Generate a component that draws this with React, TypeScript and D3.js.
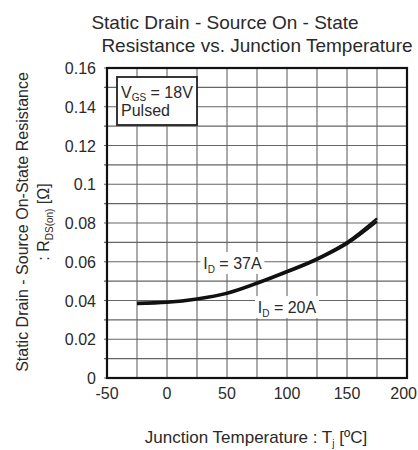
import React from "react";
import * as d3 from "d3";

// Junction temperature (ºC) and RDS(on) (Ω)
const temps = [-25, 0, 25, 50, 75, 100, 125, 150, 175];
const rds37A = [0.0389, 0.0394, 0.0411, 0.0441, 0.0493, 0.0553, 0.0618, 0.0702, 0.0824];
const rds20A = [0.0382, 0.0388, 0.0405, 0.0434, 0.0486, 0.0545, 0.0610, 0.0692, 0.0808];

const xTicks = [-50, 0, 50, 100, 150, 200];
const yTicks = [0, 0.02, 0.04, 0.06, 0.08, 0.1, 0.12, 0.14, 0.16];
const xGrid = d3.range(-50, 201, 25);
const yGrid = d3.range(0, 0.1601, 0.01);

const FONT = "'Liberation Sans', Arial, sans-serif";
const TXT = "#2a2a2a";

const W = 418, H = 450;
const m = { left: 107, right: 11, top: 68, bottom: 72 };

export default function App() {
    const x = d3.scaleLinear().domain([-50, 200]).range([m.left, W - m.right]);
    const y = d3.scaleLinear().domain([0, 0.16]).range([H - m.bottom, m.top]);

    const line = d3.line<number>()
        .x((_, i) => x(temps[i]))
        .y(d => y(d))
        .curve(d3.curveMonotoneX);

    const labelBox = (cx: number, cy: number, w: number) => (
        <rect x={cx - w / 2} y={cy - 11} width={w} height={22} fill="#fff" />
    );

    return (
        <svg width={W} height={H} style={{ position: "absolute", left: 0, top: 0, background: "#fff" }}
            fontFamily={FONT}>
            {/* title */}
            <text x={225} y={29} textAnchor="middle" fontSize={19} fill={TXT}>Static Drain - Source On - State</text>
            <text x={257} y={52} textAnchor="middle" fontSize={19} fill={TXT}>Resistance vs. Junction Temperature</text>

            {/* grid */}
            {xGrid.map(v => (
                <line key={"gx" + v} x1={x(v)} x2={x(v)} y1={y(0)} y2={y(0.16)} stroke="#666" strokeWidth={1.1} />
            ))}
            {yGrid.map(v => (
                <line key={"gy" + v} x1={x(-50) - 3} x2={x(200)} y1={y(v)} y2={y(v)} stroke="#666" strokeWidth={1.1} />
            ))}

            {/* curve labels */}
            {labelBox(x(54.5), y(0.0594), 64)}
            <text x={x(54.5)} y={y(0.0594) + 6} textAnchor="middle" fontSize={16} fill={TXT}>
                I<tspan fontSize={10} dy={4}>D</tspan><tspan dy={-4}> = 37A</tspan>
            </text>
            {labelBox(x(100), y(0.0366), 64)}
            <text x={x(100)} y={y(0.0366) + 6} textAnchor="middle" fontSize={16} fill={TXT}>
                I<tspan fontSize={10} dy={4}>D</tspan><tspan dy={-4}> = 20A</tspan>
            </text>

            {/* curves */}
            <path d={line(rds37A) || ""} fill="none" stroke="#111" strokeWidth={2.4} />
            <path d={line(rds20A) || ""} fill="none" stroke="#111" strokeWidth={2.4} />

            {/* condition box */}
            <rect x={117} y={77} width={80} height={48} fill="#fff" stroke="#222" strokeWidth={1.8} />
            <text x={121} y={98} fontSize={16} fill={TXT}>
                V<tspan fontSize={10} dy={3}>GS</tspan><tspan dy={-3}> = 18V</tspan>
            </text>
            <text x={121} y={116} fontSize={16} fill={TXT}>Pulsed</text>

            {/* frame */}
            <rect x={x(-50)} y={y(0.16)} width={x(200) - x(-50)} height={y(0) - y(0.16)}
                fill="none" stroke="#111" strokeWidth={2.2} />

            {/* tick labels */}
            {yTicks.map(v => (
                <text key={"yt" + v} x={96} y={y(v) + 6} textAnchor="end" fontSize={16} fill={TXT}>
                    {+v.toFixed(2)}
                </text>
            ))}
            {xTicks.map((v, i) => {
                const last = i === xTicks.length - 1;
                return (
                    <text key={"xt" + v} x={last ? W - 1 : x(v)} y={y(0) + 21}
                        textAnchor={last ? "end" : "middle"} fontSize={16} fill={TXT}>{v}</text>
                );
            })}

            {/* axis titles */}
            <text x={256} y={443} textAnchor="middle" fontSize={17} fill={TXT}>
                Junction Temperature : T<tspan fontSize={10} dy={4}>j</tspan><tspan dy={-4}> [ºC]</tspan>
            </text>
            <g transform="translate(28,222) rotate(-90)">
                <text x={0} y={0} textAnchor="middle" fontSize={16} fill={TXT}>Static Drain - Source On-State Resistance</text>
                <text x={0} y={21} textAnchor="middle" fontSize={16} fill={TXT}>
                    : R<tspan fontSize={10} dy={4}>DS(on)</tspan><tspan dy={-4}> [Ω]</tspan>
                </text>
            </g>
        </svg>
    );
}
